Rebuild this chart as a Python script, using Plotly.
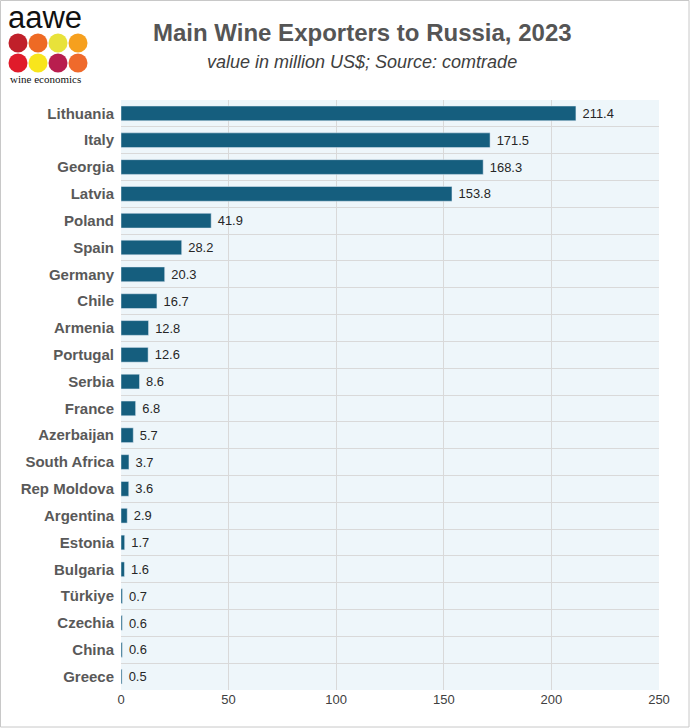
import plotly.graph_objects as go

# ---------- DATA ---------- #
countries = ["Lithuania", "Italy", "Georgia", "Latvia", "Poland", "Spain", "Germany", "Chile",
             "Armenia", "Portugal", "Serbia", "France", "Azerbaijan", "South Africa", "Rep Moldova",
             "Argentina", "Estonia", "Bulgaria", "Türkiye", "Czechia", "China", "Greece"]
values = [211.4, 171.5, 168.3, 153.8, 41.9, 28.2, 20.3, 16.7, 12.8, 12.6, 8.6, 6.8, 5.7,
          3.7, 3.6, 2.9, 1.7, 1.6, 0.7, 0.6, 0.6, 0.5]
x_ticks = [0, 50, 100, 150, 200, 250]
logo_colors = ["#c0202a", "#ee6a24", "#e8e23a", "#f6a01e",
               "#e01b2a", "#f8e51c", "#b81e4e", "#ef6a2c"]

W, H = 690, 728
L, R, T, B = 121, 31, 100, 38
PW, PH = W - L - R, H - T - B


def px(x):
    return (x - L) / PW


def py(y):
    # y measured from the top of the page
    return (H - B - y) / PH


fig = go.Figure(go.Bar(
    x=values, y=countries, orientation="h",
    marker=dict(color="#155e7e"),
    width=0.55,
    text=[f" {v:.1f}" for v in values], textposition="outside",
    textfont=dict(size=14, color="#262626", family="Liberation Sans"),
    cliponaxis=False,
))

# logo circles + page border
shapes = []
for i, c in enumerate(logo_colors):
    cx = 18 + (i % 4) * 20
    cy = 43 + (i // 4) * 20
    shapes.append(dict(type="circle", xref="paper", yref="paper",
                       x0=px(cx - 9.5), x1=px(cx + 9.5),
                       y0=py(cy + 9.5), y1=py(cy - 9.5),
                       fillcolor=c, line=dict(width=0)))
shapes.append(dict(type="rect", xref="paper", yref="paper",
                   x0=px(0.5), x1=px(W - 1), y0=py(H - 1), y1=py(0.5),
                   line=dict(color="#c8c8c8", width=1)))

fig.update_layout(
    width=W, height=H,
    margin=dict(l=L, r=R, t=T, b=B),
    paper_bgcolor="white", plot_bgcolor="#eef6fa",
    font=dict(family="Liberation Sans", color="#595959"),
    showlegend=False,
    shapes=shapes,
    xaxis=dict(range=[0, 250], tickvals=x_ticks, showgrid=True, gridcolor="#d9d9d9",
               zeroline=False, tickfont=dict(size=13, color="#404040"), fixedrange=True),
    yaxis=dict(autorange="reversed", tickson="boundaries", showgrid=True, gridcolor="#d9d9d9",
               ticks="", tickfont=dict(size=15, color="#595959", family="Liberation Sans"),
               ticklabelstandoff=6),
    annotations=[
        dict(text="<b>Main Wine Exporters to Russia, 2023</b>", x=px(362), y=py(32),
             xref="paper", yref="paper", showarrow=False, yanchor="middle",
             font=dict(size=24, color="#555555")),
        dict(text="<i>value in million US$; Source: comtrade</i>", x=px(362), y=py(62),
             xref="paper", yref="paper", showarrow=False, yanchor="middle",
             font=dict(size=18, color="#404040")),
        dict(text="aawe", x=px(6), y=py(17), xref="paper", yref="paper", showarrow=False,
             xanchor="left", yanchor="middle",
             font=dict(size=31, color="#111111", family="Liberation Sans")),
        dict(text="wine economics", x=px(8), y=py(79), xref="paper", yref="paper",
             showarrow=False, xanchor="left", yanchor="middle",
             font=dict(size=11, color="#111111", family="Liberation Serif")),
    ],
)

# bold category labels
fig.update_yaxes(ticktext=[f"<b>{c}</b>" for c in countries], tickvals=countries)

fig.write_html("out.html", config={"displayModeBar": False},
               post_script="document.body.style.margin='0';")
